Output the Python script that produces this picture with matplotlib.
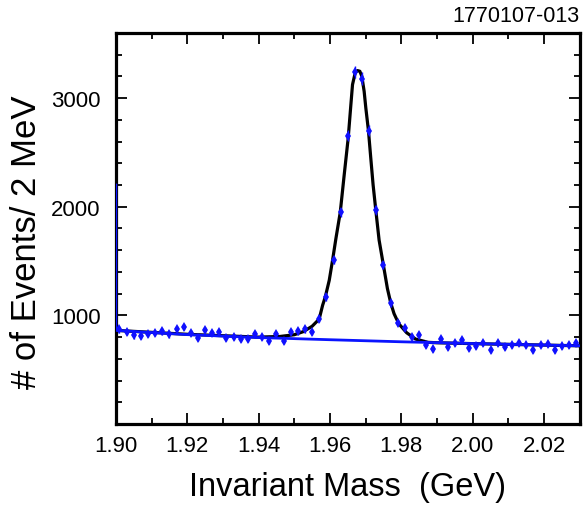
import numpy as np
import matplotlib
matplotlib.use("Agg")
import matplotlib.pyplot as plt
from matplotlib.ticker import MultipleLocator

plt.rcParams['font.family'] = ['Liberation Sans', 'DejaVu Sans']

# Data: 2 MeV bins, centres 1.901 ... 2.029 GeV
mass = np.round(np.arange(65) * 0.002 + 1.901, 4)
counts = [871, 847, 815, 810, 831, 837, 852, 825, 871, 893,
          840, 791, 868, 840, 847, 791, 800, 785, 785, 825,
          800, 766, 825, 766, 847, 852, 871, 847, 970, 1170,
          1508, 1948, 2653, 3238, 3180, 2700, 1970, 1462, 1111, 930,
          884, 800, 815, 723, 692, 785, 708, 745, 769, 699,
          717, 745, 683, 748, 708, 729, 745, 723, 677, 732,
          738, 677, 714, 729, 745]
errors = np.sqrt(counts)

# Fit curve (signal + background)
fit_m = [1.900, 1.920, 1.940, 1.9460, 1.9500, 1.9525, 1.9550, 1.9565,
         1.95701, 1.95794, 1.95869, 1.95980, 1.96073, 1.96167, 1.96288,
         1.96399, 1.96511, 1.96586, 1.96632, 1.96707, 1.96772, 1.96837,
         1.96893, 1.96958, 1.97005, 1.97079, 1.97144, 1.97209, 1.97284,
         1.97377, 1.97498, 1.97610, 1.97703, 1.97796, 1.97861, 1.9795,
         1.9815, 1.9840, 1.9875, 1.9900, 2.000, 2.030]
fit_n = [862, 826, 800, 806, 822, 850, 900, 950,
         970, 1093, 1170, 1323, 1508, 1708, 1948,
         2293, 2632, 2939, 3124, 3232, 3253, 3247,
         3201, 3062, 2909, 2699, 2447, 2201, 1970,
         1693, 1462, 1247, 1114, 1016, 970, 915,
         840, 782, 752, 748, 740, 720]

# Background curve
bg_m = [1.900, 1.900, 1.920, 1.940, 1.960, 1.980, 2.000, 2.030]
bg_n = [2200, 862, 823, 796, 776, 757, 741, 720]

xticks = [1.90, 1.92, 1.94, 1.96, 1.98, 2.00, 2.02]
xticklabels = ["1.90", "1.92", "1.94", "1.96", "1.98", "2.00", "2.02"]
yticks = [1000, 2000, 3000]
yticklabels = ["1000", "2000", "3000"]

fig = plt.figure(figsize=(5.88, 5.06), dpi=100)
ax = fig.add_axes([0.197, 0.160, 0.789, 0.773])

ax.plot(fit_m, fit_n, color='black', lw=2.3, zorder=2)
ax.plot(bg_m, bg_n, color='#0a14ff', lw=2.0, zorder=3)
ax.errorbar(mass, counts, yerr=errors, fmt='d', color='#1010ff',
            ms=5.5, mew=0, elinewidth=1.0, capsize=0, zorder=4)

ax.set_xlim(1.90, 2.03)
ax.set_ylim(0, 3600)
ax.set_xticks(xticks)
ax.set_xticklabels(xticklabels)
ax.set_yticks(yticks)
ax.set_yticklabels(yticklabels)
ax.xaxis.set_minor_locator(MultipleLocator(0.01))
ax.yaxis.set_minor_locator(MultipleLocator(200))
ax.tick_params(which='both', direction='in', top=True, right=True, width=1.3,
               labelsize=16)
ax.tick_params(axis='x', which='both', pad=8)
ax.tick_params(axis='y', which='both', pad=11)
ax.tick_params(which='major', length=8)
ax.tick_params(which='minor', length=4)
for s in ax.spines.values():
    s.set_linewidth(2.3)

ax.set_xlabel("Invariant Mass  (GeV)", fontsize=23.5, labelpad=11)
ax.set_ylabel("# of Events/ 2 MeV", fontsize=25)
ax.yaxis.set_label_coords(-0.158, 0.468)

fig.text(0.986, 0.968, "1770107-013", ha='right', va='center', fontsize=15.5)

fig.savefig("out.png", dpi=100)
